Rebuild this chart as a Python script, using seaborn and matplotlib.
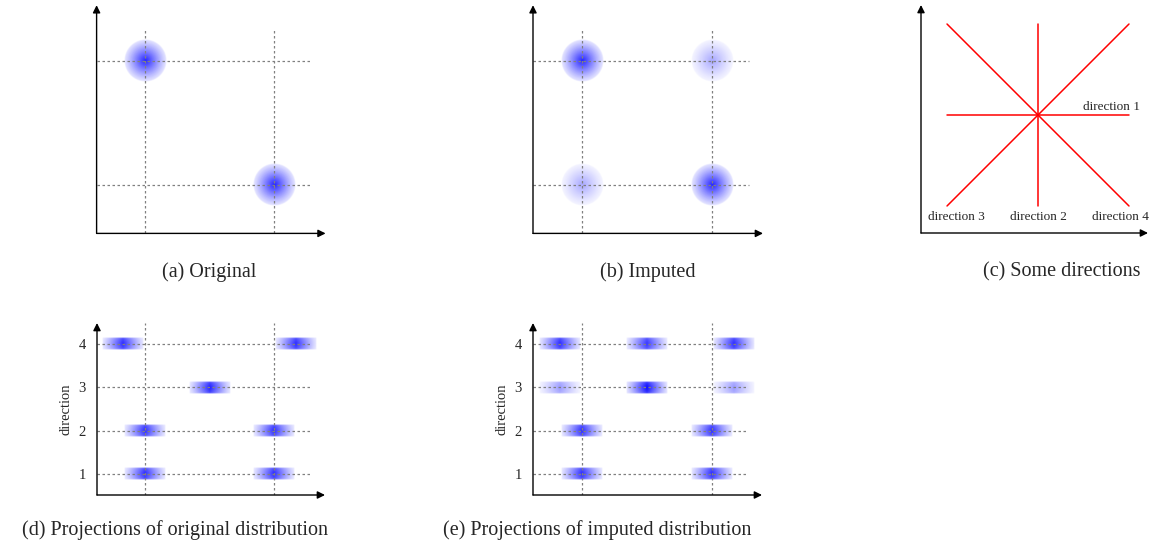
import numpy as np
import pandas as pd
import matplotlib
matplotlib.use("Agg")
import matplotlib.pyplot as plt
import seaborn as sns

# ---------------- data ----------------
grid_x = [1, 3]                     # dashed reference columns
grid_y = [1, 3]                     # dashed reference rows (2-D panels)

orig_x = [1, 3]
orig_y = [3, 1]
orig_w = [1.0, 1.0]

imp_x = [1, 3, 1, 3]
imp_y = [3, 1, 1, 3]
imp_w = [1.0, 1.0, 0.4, 0.4]

dir_names = ["direction 1", "direction 2", "direction 3", "direction 4"]
dir_x0 = [-1, 0, -1, 1]
dir_y0 = [0, -1, -1, -1]
dir_x1 = [1, 0, 1, -1]
dir_y1 = [0, 1, 1, 1]

proj_rows = [1, 2, 3, 4]
proj_orig_dir = [1, 1, 2, 2, 3, 4, 4]
proj_orig_pos = [1, 3, 1, 3, 2, 0.66, 3.34]
proj_orig_w = [0.95, 0.95, 0.95, 0.95, 1.0, 0.95, 0.95]

proj_imp_dir = [1, 1, 2, 2, 3, 3, 3, 4, 4, 4]
proj_imp_pos = [1, 3, 1, 3, 0.66, 2, 3.34, 0.66, 2, 3.34]
proj_imp_w = [0.95, 0.95, 0.95, 0.95, 0.45, 1.1, 0.45, 0.95, 0.9, 0.95]

captions = ["(a) Original", "(b) Imputed", "(c) Some directions",
            "(d) Projections of original distribution",
            "(e) Projections of imputed distribution"]

# ---------------- style ----------------
sns.set_style("white")
plt.rcParams["font.family"] = ["Liberation Serif", "DejaVu Serif"]

W, H = 1154, 549
fig = plt.figure(figsize=(W / 100, H / 100), dpi=100)


def add_ax(left, top, right, bottom):
    return fig.add_axes([left / W, 1 - bottom / H, (right - left) / W, (bottom - top) / H])


def axis_arrows(ax):
    for s in ax.spines.values():
        s.set_visible(False)
    kw = dict(arrowstyle="-|>", color="black", lw=1.0, mutation_scale=11,
              shrinkA=0, shrinkB=0)
    ax.annotate("", xy=(1, 0), xytext=(0, 0), xycoords="axes fraction",
                arrowprops=kw, annotation_clip=False)
    ax.annotate("", xy=(0, 1), xytext=(0, 0), xycoords="axes fraction",
                arrowprops=kw, annotation_clip=False)


def blob(ax, cx, cy, rx, ry, amp, kind):
    n = 121
    u = np.linspace(-1, 1, n)
    X, Y = np.meshgrid(u, u)
    if kind == "disc":
        r = np.sqrt(X ** 2 + Y ** 2)
        vert = 1.0
    else:
        r = np.abs(X)
        vert = np.clip((1 - np.abs(Y)) * 5, 0, 1) * (0.8 + 0.2 * np.exp(-2 * Y ** 2))
    prof = 0.1 + 0.8 * np.clip(1 - r, 0, 1) ** 1.15
    a = prof * np.clip((1 - r) * n / 6, 0, 1)
    a = np.clip(amp * a * vert, 0, 1)
    rgba = np.zeros((n, n, 4))
    rgba[..., 0] = 0.05
    rgba[..., 1] = 0.05
    rgba[..., 2] = 1.0
    rgba[..., 3] = a
    ax.imshow(rgba, extent=[cx - rx, cx + rx, cy - ry, cy + ry], origin="lower",
              interpolation="bilinear", aspect="auto", zorder=1)


dash = dict(color="0.5", lw=0.9, linestyle=(0, (2, 2)), zorder=2)


def panel_2d(ax, xs, ys, ws, xlim, ylim):
    for x, y, w in zip(xs, ys, ws):
        blob(ax, x, y, 0.33, 0.34, w, "disc")
    ax.vlines(grid_x, ylim[0], 3.53, **dash)
    ax.hlines(grid_y, xlim[0], 3.56, **dash)
    ax.set_xlim(*xlim)
    ax.set_ylim(*ylim)
    ax.set_xticks([])
    ax.set_yticks([])
    axis_arrows(ax)


def panel_proj(ax, dirs, pos, ws, xlim, ylim):
    for d, p, w in zip(dirs, pos, ws):
        blob(ax, p, d, 0.32, 0.145, w, "bar")
    ax.vlines(grid_x, ylim[0], ylim[1], **dash)
    ax.hlines(proj_rows, xlim[0], 3.56, **dash)
    ax.set_xlim(*xlim)
    ax.set_ylim(*ylim)
    ax.set_xticks([])
    ax.set_yticks(proj_rows)
    ax.set_yticklabels([str(r) for r in proj_rows], fontsize=10.5)
    ax.tick_params(axis="y", length=0, pad=8)
    ax.set_ylabel("direction", fontsize=10.5, labelpad=4)
    axis_arrows(ax)


# (a)
ax_a = add_ax(96.6, 5.2, 325.6, 233.4)
panel_2d(ax_a, orig_x, orig_y, orig_w, (0.25, 3.8), (0.22, 3.9))
# (b)
ax_b = add_ax(533, 5.2, 763, 233.4)
panel_2d(ax_b, imp_x, imp_y, imp_w, (0.246, 3.78), (0.22, 3.9))

# (c)
ax_c = add_ax(921, 5, 1148, 233)
rows = []
for i, name in enumerate(dir_names):
    rows.append({"x": dir_x0[i], "y": dir_y0[i], "dir": name})
    rows.append({"x": dir_x1[i], "y": dir_y1[i], "dir": name})
df_dir = pd.DataFrame(rows)
sns.lineplot(data=df_dir, x="x", y="y", units="dir", estimator=None, sort=False,
             color="red", lw=1.1, ax=ax_c, legend=False)
ax_c.set_xlim(-1.286, 1.209)
ax_c.set_ylim(-1.297, 1.209)
ax_c.set_xticks([])
ax_c.set_yticks([])
ax_c.set_xlabel("")
ax_c.set_ylabel("")
axis_arrows(ax_c)
# direction labels
ax_c.annotate(dir_names[0], xy=(dir_x1[0], dir_y1[0]), xytext=(8, 6),
              textcoords="offset points", ha="right", va="center", fontsize=9.5)
for i, dx in zip([1, 2, 3], [0, 7, -6]):
    bx = dir_x0[i] if dir_y0[i] < dir_y1[i] else dir_x1[i]
    by = min(dir_y0[i], dir_y1[i])
    ax_c.annotate(dir_names[i], xy=(bx, by), xytext=(dx, -8),
                  textcoords="offset points", ha="center", va="center", fontsize=9.5)

# (d)
ax_d = add_ax(97, 323, 325, 495)
panel_proj(ax_d, proj_orig_dir, proj_orig_pos, proj_orig_w, (0.256, 3.79), (0.515, 4.485))
# (e)
ax_e = add_ax(533, 323, 762, 495)
panel_proj(ax_e, proj_imp_dir, proj_imp_pos, proj_imp_w, (0.246, 3.77), (0.515, 4.485))

# captions
cap_pos = [(209, 272), (648, 272), (1062, 272), (175, 530), (597, 530)]
for txt, (cx, cy) in zip(captions, cap_pos):
    fig.text(cx / W, 1 - cy / H, txt, ha="center", va="center", fontsize=14.5)

fig.savefig("out.png", dpi=100)
